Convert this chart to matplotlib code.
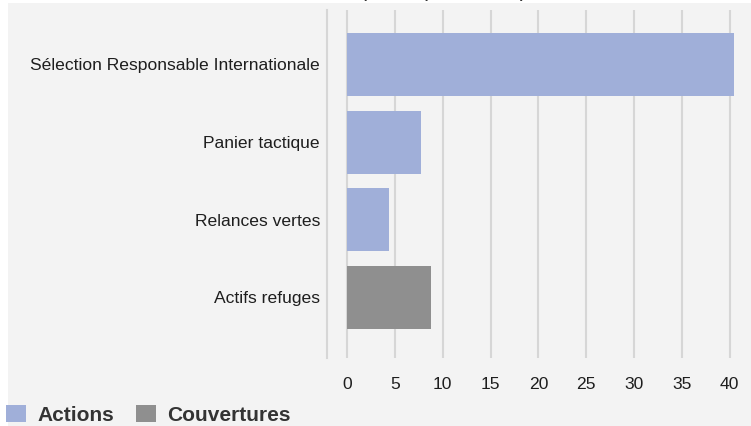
import matplotlib.pyplot as plt
from matplotlib.patches import Patch, Rectangle

plt.rcParams['font.family'] = ['Liberation Sans', 'DejaVu Sans']

# allocation par poche, en % de l'actif
categories = ["Sélection Responsable Internationale", "Panier tactique",
              "Relances vertes", "Actifs refuges"]
values = [40.5, 7.7, 4.4, 8.8]
groups = ["Actions", "Actions", "Actions", "Couvertures"]
group_colors = {"Actions": "#a0afd9", "Couvertures": "#8f8f8f"}
xticks = [0, 5, 10, 15, 20, 25, 30, 35, 40]

W, H = 751, 426
fig = plt.figure(figsize=(W / 100, H / 100), dpi=100)
fig.patch.set_facecolor("white")
# fond gris clair décalé du bord
fig.patches.append(Rectangle((8 / W, 0), 1, 1 - 3 / H, transform=fig.transFigure,
                             facecolor="#f3f3f3", edgecolor="none", zorder=-10))

ax = fig.add_axes([327 / W, 1 - 358 / H, (745 - 327) / W, (358 - 10) / H])
ax.set_facecolor("none")

colors = [group_colors[g] for g in groups]
ax.barh(range(len(categories)), values, height=0.81, color=colors, zorder=3)

ax.set_xlim(-2.1, 41.6)
ax.set_ylim(3.78, -0.70)
ax.set_xticks(xticks)
ax.set_yticks(range(len(categories)))
ax.set_yticklabels(categories)
ax.grid(axis="x", color="#d6d6d6", linewidth=1.5, zorder=0)
ax.tick_params(axis="both", length=0, labelsize=12.6, labelcolor="#1e1e1e")
ax.tick_params(axis="x", pad=14)
ax.tick_params(axis="y", pad=5)
for side in ["top", "right", "bottom"]:
    ax.spines[side].set_visible(False)
ax.spines["left"].set_color("#d6d6d6")
ax.spines["left"].set_linewidth(1.5)

fig.text(525 / W, 1 + 1.5 / H, "Répartition (en % de l'actif)",
         ha="right", va="baseline", fontsize=10, fontweight="bold", color="#333333")

handles = [Patch(facecolor=c, edgecolor="none", label=g) for g, c in group_colors.items()]
leg = fig.legend(handles=handles, loc="lower left", bbox_to_anchor=(0, -5 / H),
                 ncol=2, frameon=False, handlelength=0.96, handleheight=0.92,
                 handletextpad=0.53, columnspacing=1.06, borderaxespad=0.0,
                 borderpad=0.3, prop={"weight": "bold", "size": 15})
for t in leg.get_texts():
    t.set_color("#333333")

fig.savefig("out.png", dpi=100)
